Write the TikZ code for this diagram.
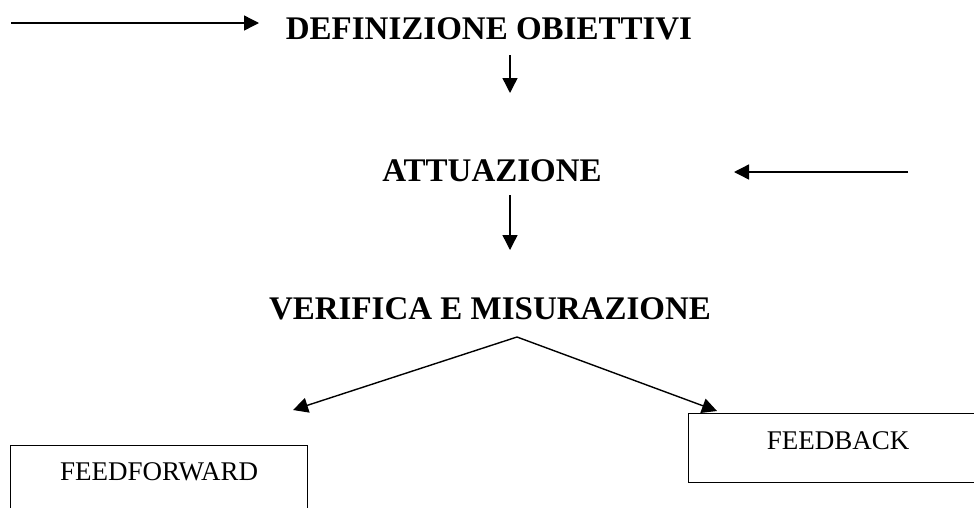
\documentclass[tikz,border=0pt]{standalone}
\usepackage{fontspec}
\setmainfont{Liberation Serif}
\usetikzlibrary{arrows.meta}
\begin{document}
\begin{tikzpicture}[x=1pt,y=-1pt,
  head/.style={font=\fontsize{33}{36}\selectfont\bfseries, inner sep=0pt, anchor=base},
  boxlbl/.style={font=\fontsize{27}{30}\selectfont, inner sep=0pt},
  box/.style={draw, line width=1.2pt, anchor=north west, inner sep=0pt},
  arr/.style={line width=1.4pt, -{Triangle[length=15pt,width=15pt]}}]
\clip (0,0) rectangle (974,507);
% headings
\node[head] (def) at (489,39) {DEFINIZIONE OBIETTIVI};
\node[head] (att) at (492,181) {ATTUAZIONE};
\node[head] (ver) at (490,319) {VERIFICA E MISURAZIONE};
% boxes
\node[box, minimum width=297pt, minimum height=100pt,
  label={[boxlbl, anchor=base, yshift=-35pt]north:FEEDFORWARD}] (ff) at (10,445) {};
\node[box, minimum width=299pt, minimum height=69pt,
  label={[boxlbl, anchor=base, yshift=-36pt]north:FEEDBACK}] (fb) at (688,413) {};
% connector end points
\coordinate (a0) at (11,23);  \coordinate (a1) at (259,23);
\coordinate (v1s) at (510,55); \coordinate (v1e) at (510,93);
\coordinate (r0) at (908,172); \coordinate (r1) at (734,172);
\coordinate (v2s) at (510,195); \coordinate (v2e) at (510,250);
\coordinate (apex) at (517,337);
\coordinate (lt) at (293,410); \coordinate (rt) at (717,411);
% arrows
\draw[arr] (a0) -- (a1);
\draw[arr] (v1s) -- (v1e);
\draw[arr] (r0) -- (r1);
\draw[arr] (v2s) -- (v2e);
\draw[arr] (apex) -- (lt);
\draw[arr] (apex) -- (rt);
\end{tikzpicture}
\end{document}
